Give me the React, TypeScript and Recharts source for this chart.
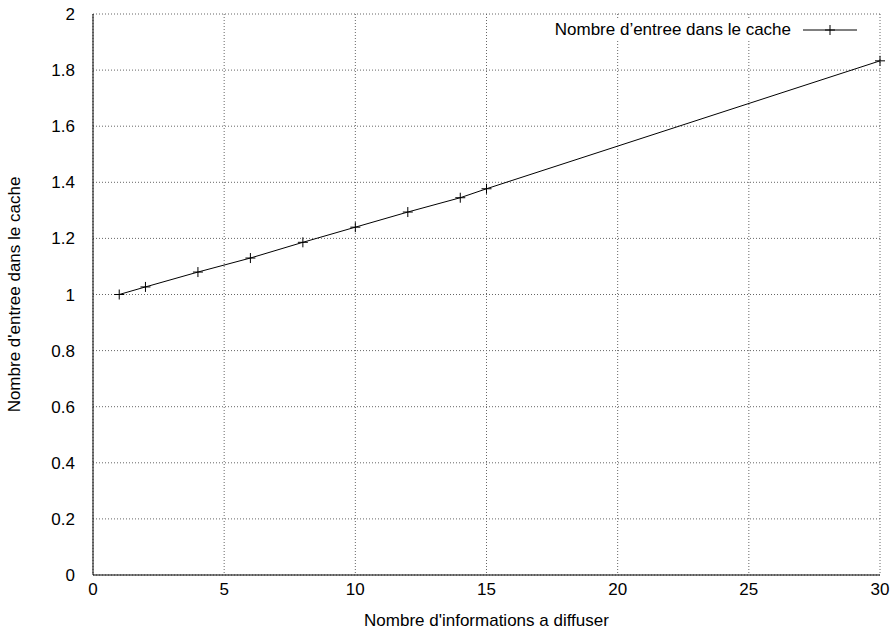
import React from "react";
import {
  LineChart,
  Line,
  XAxis,
  YAxis,
  CartesianGrid,
  Label,
} from "recharts";

// values
const infos = [1, 2, 4, 6, 8, 10, 12, 14, 15, 30];
const entrees = [1.0, 1.027, 1.08, 1.13, 1.186, 1.24, 1.294, 1.345, 1.377, 1.833];
const xTicks = [0, 5, 10, 15, 20, 25, 30];
const yTicks = [0, 0.2, 0.4, 0.6, 0.8, 1, 1.2, 1.4, 1.6, 1.8, 2];

const seriesName = "Nombre d\u2019entree dans le cache";
const data = infos.map((x, i) => ({ x, y: entrees[i] }));

const font = "'Liberation Sans', Arial, Helvetica, sans-serif";
const fs = 17;

const Plus = (props: any) => {
  const { cx, cy, index } = props;
  if (cx == null || cy == null) return <g key={index} />;
  return (
    <path
      key={index}
      d={`M${cx - 5},${cy}H${cx + 5}M${cx},${cy - 5}V${cy + 5}`}
      stroke="#000"
      strokeWidth={1}
    />
  );
};

const fmt = (v: number) => String(Number(v.toFixed(1)));

export default function App() {
  return (
    <div style={{ position: "absolute", left: 0, top: 0, width: 894, height: 629, background: "#fff" }}>
      <LineChart
        width={894}
        height={629}
        data={data}
        margin={{ top: 14, right: 14, left: 0, bottom: 0 }}
        style={{ fontFamily: font }}
      >
        <CartesianGrid stroke="#666" strokeDasharray="1 2" />
        <XAxis
          type="number"
          dataKey="x"
          domain={[0, 30]}
          ticks={xTicks}
          height={54}
          axisLine={{ stroke: "#000", strokeWidth: 1 }}
          tickLine={false}
          tick={{ fill: "#000", fontSize: fs }}
          tickMargin={2}
        >
          <Label
            value="Nombre d'informations a diffuser"
            position="insideBottom"
            offset={3}
            style={{ fill: "#000", fontSize: fs }}
          />
        </XAxis>
        <XAxis
          xAxisId="top"
          type="number"
          orientation="top"
          domain={[0, 30]}
          height={0}
          tick={false}
          tickLine={false}
          axisLine={{ stroke: "#000" }}
        />
        <YAxis
          type="number"
          domain={[0, 2]}
          ticks={yTicks}
          width={93}
          tickFormatter={fmt}
          axisLine={{ stroke: "#000", strokeWidth: 1 }}
          tickLine={false}
          tick={{ fill: "#000", fontSize: fs }}
          tickMargin={12}
        >
          <Label
            value="Nombre d'entree dans le cache"
            angle={-90}
            position="insideLeft"
            offset={14}
            style={{ fill: "#000", fontSize: fs, textAnchor: "middle" }}
          />
        </YAxis>
        <YAxis
          yAxisId="right"
          orientation="right"
          domain={[0, 2]}
          width={0}
          tick={false}
          tickLine={false}
          axisLine={{ stroke: "#000" }}
        />
        <Line
          type="linear"
          dataKey="y"
          name={seriesName}
          stroke="#000"
          strokeWidth={1}
          dot={Plus}
          activeDot={false}
          isAnimationActive={false}
        />
      </LineChart>
      <div
        style={{
          position: "absolute",
          top: 20,
          right: 29,
          display: "flex",
          alignItems: "center",
          fontFamily: font,
          fontSize: fs,
          color: "#000",
          background: "#fff",
        }}
      >
        <span>{seriesName}</span>
        <svg width={62} height={12} style={{ marginLeft: 12 }}>
          <line x1={0} y1={6} x2={54} y2={6} stroke="#000" strokeWidth={1} />
          <path d="M27,1V11M22,6H32" stroke="#000" />
        </svg>
      </div>
    </div>
  );
}
